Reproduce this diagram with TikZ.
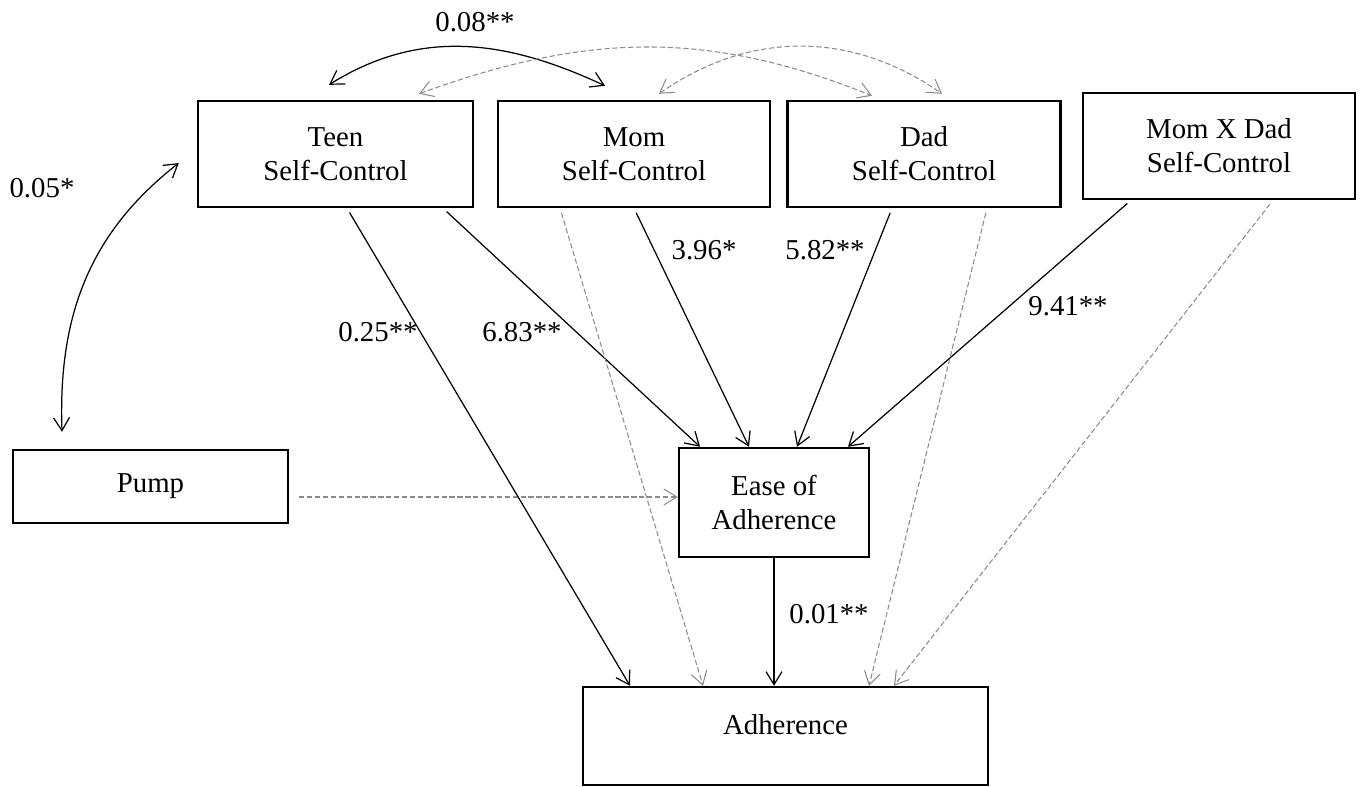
\documentclass[tikz,border=0pt]{standalone}
\usepackage{fontspec}
\setmainfont{Liberation Serif}
\usetikzlibrary{arrows.meta, positioning}
\definecolor{nsgray}{RGB}{140,140,140}
\tikzset{
	>={Straight Barb[length=0.26cm,width=0.32cm]},
	varbox/.style 2 args={draw, line width=1.4pt, inner sep=0pt, align=center,
		minimum width=#1, minimum height=#2},
	sigpath/.style={draw=black, line width=0.7pt, shorten <=0.1cm, ->},
	nspath/.style={draw=nsgray, line width=0.6pt, dash pattern=on 3pt off 1.5pt, shorten <=0.1cm, ->},
	corrpath/.style={line width=0.7pt, <->},
	coefflabel/.style={inner sep=1pt}
}

\begin{document}
\begin{tikzpicture}[x=0.02cm, y=-0.02cm, font=\fontsize{16.4}{19.4}\selectfont]
	\useasboundingbox (0,0) rectangle (1362,787);
	% self-control boxes
	\node[varbox={5.5cm}{2.12cm}] (teen) at (335.5,154) {Teen\\Self-Control};
	\node[varbox={5.44cm}{2.12cm}] (mom) at (634,154) {Mom\\Self-Control};
	\node[varbox={5.46cm}{2.12cm}] (dad) at (924,154) {Dad\\Self-Control};
	\node[varbox={5.44cm}{2.12cm}] (momxdad) at (1219,146) {Mom X Dad\\Self-Control};
	% other variables
	\node[varbox={5.5cm}{1.46cm}] (pump) at (150.5,486.5) {Pump};
	\node[varbox={3.8cm}{2.18cm}] (ease) at (774,502.5) {Ease of\\Adherence};
	\node[varbox={8.1cm}{1.96cm}, text depth=0.48cm] (adh) at (785.5,736) {Adherence};

	% correlations
	\draw[corrpath] ([xshift=-0.13cm,yshift=0.3cm]teen.north) to[out=32,in=155] ([xshift=-0.58cm,yshift=0.28cm]mom.north);
	\draw[corrpath, draw=nsgray, line width=0.6pt, dash pattern=on 3pt off 1.5pt] ([xshift=1.67cm,yshift=0.12cm]teen.north) to[out=20,in=158] ([xshift=-1.04cm,yshift=0.08cm]dad.north);
	\draw[corrpath, draw=nsgray, line width=0.6pt, dash pattern=on 3pt off 1.5pt] ([xshift=0.5cm,yshift=0.12cm]mom.north) to[out=35,in=145] ([xshift=0.36cm,yshift=0.12cm]dad.north);
	\draw[corrpath] ([xshift=-1.77cm,yshift=0.34cm]pump.north) to[out=92,in=218] ([xshift=-0.36cm,yshift=-0.18cm]teen.west);

	% paths to ease of adherence
	\draw[sigpath] ([xshift=2.15cm]teen.south) -- ([xshift=-1.48cm]ease.north);
	\draw[sigpath] (mom.south) -- ([xshift=-0.5cm]ease.north);
	\draw[sigpath] ([xshift=-0.64cm]dad.south) -- ([xshift=0.46cm]ease.north);
	\draw[sigpath] ([xshift=-1.76cm]momxdad.south) -- ([xshift=1.48cm]ease.north);
	\coordinate (pumpout) at ([xshift=0.2cm,yshift=-0.21cm]pump.east);
	\draw[nspath, shorten <=0pt] (pumpout) -- (pumpout -| ease.west);

	% paths to adherence
	\draw[sigpath] ([xshift=0.23cm]teen.south) -- ([xshift=-3.11cm]adh.north);
	\draw[nspath] ([xshift=-1.48cm]mom.south) -- ([xshift=-1.65cm]adh.north);
	\draw[nspath] ([xshift=1.26cm]dad.south) -- ([xshift=1.67cm]adh.north);
	\draw[nspath] ([xshift=1.08cm]momxdad.south) -- ([xshift=2.17cm]adh.north);
	\draw[sigpath, shorten <=0pt] (ease.south) -- (ease.south |- adh.north);

	% coefficients
	\node[coefflabel] (cteenmom) at (475,22) {0.08**};
	\node[coefflabel] (cteenpump) at (42,188) {0.05*};
	\node[coefflabel] (cteenadh) at (378,332) {0.25**};
	\node[coefflabel] (cteenease) at (522,332) {6.83**};
	\node[coefflabel] (cmomease) at (704,250) {3.96*};
	\node[coefflabel] (cdadease) at (825,250) {5.82**};
	\node[coefflabel] (cmxdease) at (1068,306) {9.41**};
	\node[coefflabel] (ceaseadh) at (829,614) {0.01**};
\end{tikzpicture}
\end{document}
